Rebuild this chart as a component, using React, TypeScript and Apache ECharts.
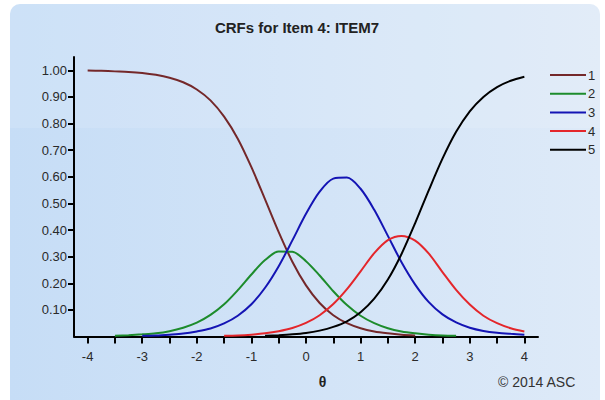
import React, { useEffect, useRef } from "react";
import * as echarts from "echarts";

const THETA = [
  -4, -3.75, -3.5, -3.25, -3, -2.75, -2.5, -2.25, -2, -1.75, -1.5, -1.25, -1, -0.75, -0.5, -0.25,
  0, 0.25, 0.5, 0.75, 1, 1.25, 1.5, 1.75, 2, 2.25, 2.5, 2.75, 3, 3.25, 3.5, 3.75, 4,
];

const CAT1 = [
  0.999, 0.998, 0.996, 0.994, 0.99, 0.983, 0.972, 0.955, 0.928, 0.887, 0.826, 0.743, 0.636, 0.515, 0.392, 0.281,
  0.192, 0.126, 0.08, 0.05, 0.031, 0.019, 0.012, 0.007, 0.004, null, null, null, null, null, null, null, null,
];
const CAT2 = [
  null, null, 0.003, 0.005, 0.008, 0.012, 0.02, 0.033, 0.052, 0.081, 0.121, 0.174, 0.233, 0.287, 0.319, 0.318,
  0.283, 0.229, 0.17, 0.118, 0.078, 0.05, 0.031, 0.019, 0.012, 0.007, 0.004, 0.003, null, null, null, null, null,
];
const CAT3 = [
  null, null, null, null, 0.003, 0.004, 0.007, 0.011, 0.019, 0.03, 0.049, 0.078, 0.121, 0.183, 0.264, 0.361,
  0.461, 0.544, 0.593, 0.597, 0.555, 0.476, 0.378, 0.279, 0.195, 0.129, 0.083, 0.053, 0.033, 0.021, 0.014, 0.01, 0.007,
];
const CAT4 = [
  null, null, null, null, null, null, null, null, null, null, 0.003, 0.004, 0.007, 0.012, 0.02, 0.032,
  0.051, 0.08, 0.122, 0.178, 0.245, 0.313, 0.362, 0.378, 0.36, 0.311, 0.242, 0.175, 0.12, 0.078, 0.05, 0.031, 0.019,
];
const CAT5 = [
  null, null, null, null, null, null, null, null, null, null, null, null, null, 0.003, 0.005, 0.008,
  0.013, 0.022, 0.036, 0.057, 0.091, 0.142, 0.214, 0.31, 0.426, 0.55, 0.668, 0.769, 0.846, 0.9, 0.937, 0.961, 0.976,
];

const SERIES_NAMES = ["1", "2", "3", "4", "5"];
const SERIES_VALUES = [CAT1, CAT2, CAT3, CAT4, CAT5];
const SERIES_COLORS = ["#74282a", "#1d8c2c", "#1414b4", "#e4262b", "#000000"];

const X_TICKS = [-4, -3.5, -3, -2.5, -2, -1.5, -1, -0.5, 0, 0.5, 1, 1.5, 2, 2.5, 3, 3.5, 4];
const X_LABELS = [-4, -3, -2, -1, 0, 1, 2, 3, 4];
const Y_TICKS = [0.1, 0.2, 0.3, 0.4, 0.5, 0.6, 0.7, 0.8, 0.9, 1.0];

const TITLE = "CRFs for Item 4: ITEM7";
const X_NAME = "θ";
const COPYRIGHT = "© 2014 ASC";

const FONT = "Liberation Sans, Arial, Helvetica, sans-serif";

export default function App() {
  const ref = useRef<HTMLDivElement>(null);

  useEffect(() => {
    if (!ref.current) return;
    const chart = echarts.init(ref.current, null, { renderer: "svg" });

    const series = SERIES_NAMES.map((name, i) => ({
      name,
      type: "line",
      smooth: 0.3,
      showSymbol: false,
      symbol: "none",
      color: SERIES_COLORS[i],
      lineStyle: { width: 2, color: SERIES_COLORS[i] },
      data: THETA.map((t, j) => [t, SERIES_VALUES[i][j]]).filter((p) => p[1] !== null),
      z: 3,
    }));

    chart.setOption({
      animation: false,
      backgroundColor: "transparent",
      textStyle: { fontFamily: FONT },
      grid: { left: 74, right: 67, top: 57, bottom: 63.5, containLabel: false },
      xAxis: {
        type: "value",
        min: -4.25,
        max: 4.25,
        axisLine: { show: true, onZero: false, lineStyle: { color: "#000", width: 2 } },
        axisTick: {
          show: true,
          customValues: X_TICKS,
          length: 7,
          inside: false,
          lineStyle: { color: "#000", width: 2 },
        },
        axisLabel: {
          customValues: X_LABELS,
          margin: 13,
          fontSize: 13,
          color: "#2a2a2a",
          fontFamily: FONT,
          formatter: (v: number) => String(v),
        },
        splitLine: { show: false },
      },
      yAxis: {
        type: "value",
        min: 0,
        max: 1.05,
        axisLine: { show: true, onZero: false, lineStyle: { color: "#000", width: 2 } },
        axisTick: {
          show: true,
          customValues: Y_TICKS,
          length: 6,
          lineStyle: { color: "#000", width: 2 },
        },
        axisLabel: {
          customValues: Y_TICKS,
          margin: 7,
          fontSize: 13,
          color: "#2a2a2a",
          fontFamily: FONT,
          formatter: (v: number) => v.toFixed(2),
        },
        splitLine: { show: false },
      },
      legend: {
        orient: "vertical",
        left: 545,
        top: 63,
        icon: "rect",
        itemWidth: 36,
        itemHeight: 2,
        itemGap: 4.7,
        data: SERIES_NAMES,
        textStyle: { fontSize: 13, color: "#2a2a2a", fontFamily: FONT, lineHeight: 14, padding: [0, 0, 0, -3] },
      },
      graphic: [
        {
          type: "rect",
          z: -10,
          silent: true,
          shape: { x: 10, y: 4, width: 590, height: 410, r: 10 },
          style: {
            fill: {
              type: "linear",
              x: 0,
              y: 0,
              x2: 1,
              y2: 0,
              colorStops: [
                { offset: 0, color: "#c6ddf6" },
                { offset: 1, color: "#deeaf8" },
              ],
            },
          },
        },
        {
          type: "rect",
          z: -9,
          silent: true,
          shape: { x: 10, y: 4, width: 590, height: 124, r: [10, 10, 0, 0] },
          style: { fill: "rgba(255,255,255,0.12)" },
        },
        {
          type: "text",
          x: 297,
          y: 27,
          silent: true,
          style: {
            text: TITLE,
            fontSize: 15,
            fontWeight: "bold",
            fontFamily: FONT,
            fill: "#222",
            align: "center",
            verticalAlign: "middle",
          },
        },
        {
          type: "text",
          x: 322.5,
          y: 382,
          silent: true,
          style: {
            text: X_NAME,
            fontSize: 14,
            fontWeight: "bold",
            fontFamily: FONT,
            fill: "#222",
            align: "center",
            verticalAlign: "middle",
          },
        },
        {
          type: "text",
          x: 498,
          y: 382,
          silent: true,
          style: {
            text: COPYRIGHT,
            fontSize: 14,
            fontFamily: FONT,
            fill: "#333",
            align: "left",
            verticalAlign: "middle",
          },
        },
      ],
      series,
    });

    return () => chart.dispose();
  }, []);

  return <div ref={ref} style={{ position: "absolute", left: 0, top: 0, width: 605, height: 400 }} />;
}
